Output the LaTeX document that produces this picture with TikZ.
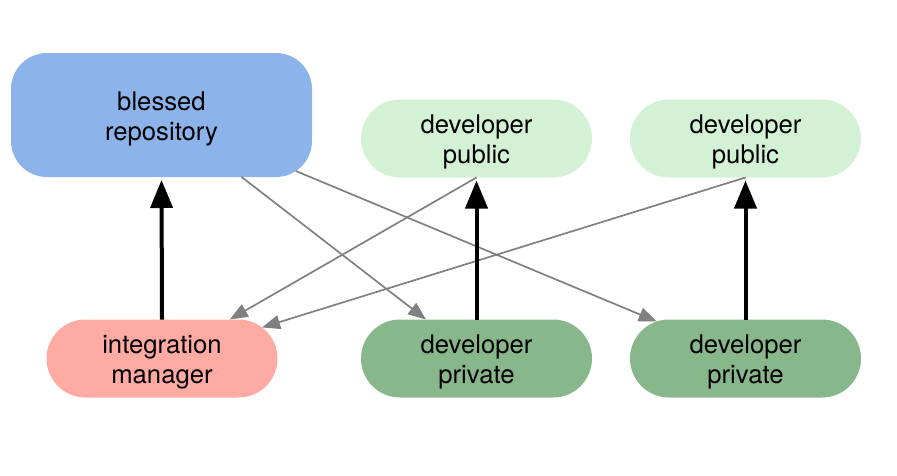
\documentclass[tikz,border=0pt]{standalone}
\usepackage{fontspec}
\setmainfont{TeX Gyre Heros}
\usetikzlibrary{shapes.misc,arrows.meta,calc}
\definecolor{blessedblue}{HTML}{8CB4EA}
\definecolor{publicgreen}{HTML}{D3F2D5}
\definecolor{privategreen}{HTML}{89B78C}
\definecolor{managerred}{HTML}{FFAAA3}
\definecolor{linkgray}{HTML}{808080}
\newcommand\nodetopgap{\rule{0pt}{26pt}}
\begin{document}
\begin{tikzpicture}[x=1pt,y=-1pt,
  box/.style={font=\fontsize{25.7}{30}\selectfont, align=center, inner sep=0pt, outer sep=0pt, text=black},
  pill/.style={box, rounded rectangle, minimum width=231pt, minimum height=78pt},
  bigbox/.style={box, rectangle, rounded corners=36pt, minimum width=301pt, minimum height=124pt, fill=blessedblue},
  publicbox/.style={pill, fill=publicgreen},
  privatebox/.style={pill, fill=privategreen},
  managerbox/.style={pill, fill=managerred},
  strong/.style={line width=4pt, black, -{Triangle[length=28pt,width=22pt]}, shorten >=3pt},
  link/.style={line width=1.7pt, linkgray, -{Triangle[length=18pt,width=14pt]}}
]
\useasboundingbox (0,0) rectangle (897,475);
\node[bigbox] (blessed) at (161.5,115) {\nodetopgap blessed\\repository};
\node[publicbox] (pub1) at (476.5,138.5) {\nodetopgap developer\\public};
\node[publicbox] (pub2) at (745.5,138.5) {\nodetopgap developer\\public};
\node[managerbox] (integ) at (162,358.5) {\nodetopgap integration\\manager};
\node[privatebox] (priv1) at (476.5,358.5) {\nodetopgap developer\\private};
\node[privatebox] (priv2) at (745.5,358.5) {\nodetopgap developer\\private};

\draw[link] (blessed) -- (priv1);
\draw[link] ($(blessed.center)!0.23!(priv2.center)$) -- (priv2);
\draw[link] (pub1.south) -- (integ);
\draw[link] (pub2.south) -- (integ);

\draw[strong] (integ.north) -- (blessed.south);
\draw[strong] (priv1.north) -- (pub1.south);
\draw[strong] (priv2.north) -- (pub2.south);
\end{tikzpicture}
\end{document}
